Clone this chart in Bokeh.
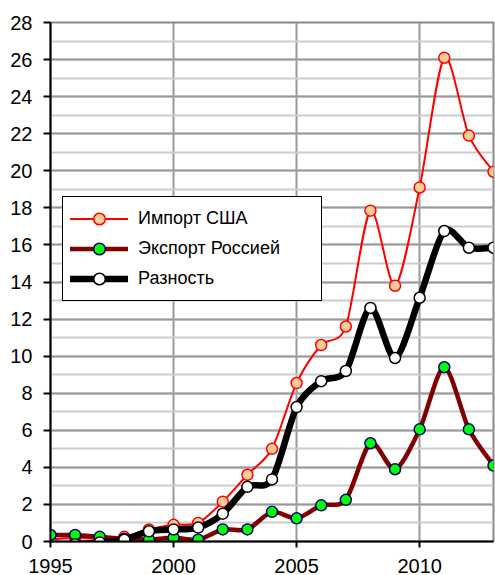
from bokeh.plotting import figure
from bokeh.models import (ColumnDataSource, Legend, LegendItem, SingleIntervalTicker, Range1d)
from bokeh.embed import file_html
from bokeh.resources import INLINE

years = list(range(1995, 2014))
import_usa = [0.1, 0.2, 0.15, 0.25, 0.65, 0.9, 1.0, 2.15, 3.6, 5.0, 8.55, 10.6, 11.6,
              17.85, 13.8, 19.1, 26.1, 21.9, 19.95]
export_russia = [0.35, 0.35, 0.25, 0.15, 0.1, 0.2, 0.1, 0.65, 0.65, 1.6, 1.25, 1.95, 2.25,
                 5.3, 3.9, 6.05, 9.4, 6.05, 4.1]
difference = [-0.25, -0.15, -0.05, 0.1, 0.55, 0.65, 0.75, 1.5, 2.95, 3.35, 7.25, 8.65, 9.2,
              12.6, 9.9, 13.15, 16.75, 15.85, 15.85]

labels = ["Импорт США", "Экспорт Россией", "Разность"]
FONT = "Liberation Sans"


def smooth_source(xs, ys, t=0.14):
    n = len(xs)
    d = dict(x0=[], y0=[], x1=[], y1=[], cx0=[], cy0=[], cx1=[], cy1=[])
    for i in range(n - 1):
        a = i - 1 if i > 0 else i
        b = i + 2 if i + 2 < n else i + 1
        d["x0"].append(xs[i]); d["y0"].append(ys[i])
        d["x1"].append(xs[i + 1]); d["y1"].append(ys[i + 1])
        d["cx0"].append(xs[i] + (xs[i + 1] - xs[a]) * t)
        d["cy0"].append(ys[i] + (ys[i + 1] - ys[a]) * t)
        d["cx1"].append(xs[i + 1] - (xs[b] - xs[i]) * t)
        d["cy1"].append(ys[i + 1] - (ys[b] - ys[i]) * t)
    return ColumnDataSource(d)


p = figure(width=495, height=575, output_backend="svg", toolbar_location=None,
           x_range=Range1d(1995, 2013.0), y_range=Range1d(0, 28),
           min_border_left=50, min_border_right=2, min_border_top=22, min_border_bottom=34)
p.background_fill_color = "white"
p.border_fill_color = "white"
p.outline_line_color = "#888888"
p.outline_line_width = 2

# axes
p.yaxis.ticker = SingleIntervalTicker(interval=2, num_minor_ticks=2)
p.xaxis.ticker = SingleIntervalTicker(interval=5, num_minor_ticks=0)
for ax in (p.xaxis, p.yaxis):
    ax.axis_line_color = "black"
    ax.axis_line_width = 2
    ax.major_tick_line_color = "black"
    ax.major_tick_line_width = 2
    ax.major_tick_in = 0
    ax.minor_tick_line_color = None
    ax.major_label_text_font = FONT
    ax.major_label_text_font_size = "20px"
    ax.major_label_text_color = "black"
p.yaxis.major_tick_out = 7
p.yaxis.major_label_standoff = 11
p.xaxis.major_tick_out = 6
p.xaxis.major_label_standoff = 11

# grids
p.ygrid.grid_line_color = "#999999"
p.ygrid.grid_line_width = 2
p.ygrid.minor_grid_line_color = "#cccccc"
p.ygrid.minor_grid_line_width = 2
p.xgrid.grid_line_color = "#999999"
p.xgrid.grid_line_width = 2

series = [
    (import_usa, "#ff0000", 2, "#ffcc99", "#ff0000"),
    (export_russia, "#800000", 4.5, "#00ff00", "#000080"),
    (difference, "#000000", 6.5, "#ffffff", "#000000"),
]

items = []
for (vals, lc, lw, mf, ml), lab in zip(series, labels):
    src = smooth_source(years, vals)
    bz = p.bezier(x0="x0", y0="y0", x1="x1", y1="y1", cx0="cx0", cy0="cy0", cx1="cx1", cy1="cy1",
                  source=src, line_color=lc, line_width=lw, line_cap="round")
    sc = p.scatter(x=years, y=vals, size=11, marker="circle", fill_color=mf,
                   line_color=ml, line_width=1.5)
    items.append(LegendItem(label=lab, renderers=[bz, sc]))

legend = Legend(items=items, location=(12, 240))
legend.border_line_color = "black"
legend.border_line_width = 1.5
legend.border_line_alpha = 1.0
legend.background_fill_color = "white"
legend.background_fill_alpha = 1
legend.label_text_font = FONT
legend.label_text_font_size = "18px"
legend.label_text_color = "black"
legend.glyph_width = 58
legend.glyph_height = 29
legend.label_height = 29
legend.label_width = 176
legend.label_standoff = 10
legend.spacing = 1
legend.padding = 7
legend.margin = 0
p.add_layout(legend, "center")

open("out.html", "w").write(file_html(p, INLINE))
